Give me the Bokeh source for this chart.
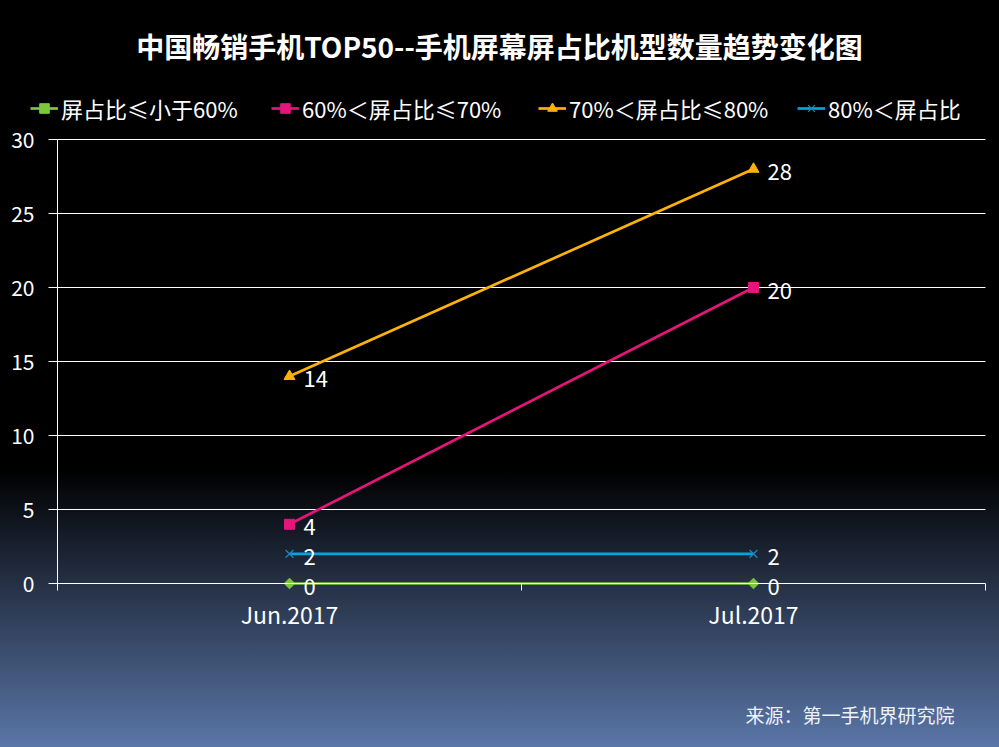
import numpy as np
from bokeh.plotting import figure
from bokeh.models import (Range1d, FixedTicker, Legend, LegendItem, Label,
                          GlobalInlineStyleSheet)
from bokeh.core.properties import value
from bokeh.embed import file_html
from bokeh.resources import INLINE

# ---------------- data ----------------
title_text = "中国畅销手机TOP50--手机屏幕屏占比机型数量趋势变化图"
source_text = "来源：第一手机界研究院"
months = ["Jun.2017", "Jul.2017"]
series_names = ["屏占比≤小于60%", "60%＜屏占比≤70%", "70%＜屏占比≤80%", "80%＜屏占比"]
s_le60 = [0, 0]
s_60_70 = [4, 20]
s_70_80 = [14, 28]
s_gt80 = [2, 2]
y_ticks = [0, 5, 10, 15, 20, 25, 30]

FONT = "Noto Sans CJK SC"

# ---------------- layout (pixels) ----------------
W, H = 999, 747
PL, PR, PT, PB = 57, 985, 139, 583   # plot area edges
YMAX = y_ticks[-1]

n = len(months)
xs = [i + 0.5 for i in range(n)]
boundaries = [float(i) for i in range(n + 1)]

ppx = (PR - PL) / n            # pixels per category
ppy = (PB - PT) / YMAX         # pixels per y unit
x_range = Range1d(-PL / ppx, n + (W - PR) / ppx)
y_range = Range1d(-(H - PB) / ppy, YMAX + PT / ppy)

css = ("html{height:100%;background-color:#5a76a8;"
       "background-image:linear-gradient(to bottom,#000000 0px,#000000 470px,#5a76a8 747px);"
       "background-repeat:no-repeat;}"
       "body{background:transparent;}")

p = figure(width=W, height=H, output_backend="svg", toolbar_location=None,
           x_range=x_range, y_range=y_range,
           min_border=0, min_border_left=0, min_border_right=0,
           min_border_top=0, min_border_bottom=0)
p.stylesheets = [GlobalInlineStyleSheet(css=css)]
p.styles = {"background": "linear-gradient(to bottom,#000000 0px,#000000 470px,#5a76a8 747px)"}
p.background_fill_color = None
p.border_fill_color = None
p.outline_line_color = None
p.xgrid.visible = False
p.ygrid.visible = False

# horizontal grid lines across the plot area
grid_y = y_ticks[1:]
p.segment(x0=[boundaries[0]] * len(grid_y), x1=[boundaries[-1]] * len(grid_y),
          y0=grid_y, y1=grid_y, line_color="white", line_width=1)

# y axis (fixed at left edge of plot area)
yax = p.yaxis[0]
yax.fixed_location = boundaries[0]
yax.bounds = (0, YMAX)
yax.ticker = FixedTicker(ticks=y_ticks)
yax.axis_line_color = "white"
yax.major_tick_line_color = "white"
yax.major_tick_out = 9
yax.major_tick_in = 0
yax.minor_tick_line_color = None
yax.major_label_text_color = "white"
yax.major_label_text_font = FONT
yax.major_label_text_font_size = "21px"
yax.major_label_standoff = 14

# x axis (fixed at y=0)
xax = p.xaxis[0]
xax.fixed_location = 0
xax.bounds = (boundaries[0], boundaries[-1])
xax.ticker = FixedTicker(ticks=xs, minor_ticks=boundaries)
xax.major_label_overrides = {x: m for x, m in zip(xs, months)}
xax.axis_line_color = "white"
xax.major_tick_line_color = None
xax.major_tick_out = 0
xax.major_tick_in = 0
xax.minor_tick_line_color = "white"
xax.minor_tick_out = 7
xax.minor_tick_in = 0
xax.major_label_text_color = "white"
xax.major_label_text_font = FONT
xax.major_label_text_font_size = "23px"
xax.major_label_standoff = 6

# ---------------- series ----------------
specs = [
    (s_le60, "#7cc83c", "square", 7.5, np.pi / 4, "#7cc83c", 1),
    (s_60_70, "#e5157a", "square", 10, 0, "#e5157a", 1),
    (s_70_80, "#fdb10b", "triangle", 11, 0, "#fdb10b", 1),
    (s_gt80, "#00a5dd", "x", 11, 0, "#1f84b4", 1.3),
]

items = []
for vals, col, mk, sz, ang, mcol, mlw in specs:
    lr = p.line(xs, vals, line_color=col, line_width=2.7)
    sr = p.scatter(xs, vals, marker=mk, size=sz, angle=ang, fill_color=mcol,
                   line_color=mcol, line_width=mlw)
    items.append([lr, sr])

for vals, *_ in specs:
    p.text(xs, vals, text=[str(v) for v in vals], x_offset=14, y_offset=3,
           text_align="left", text_baseline="middle", text_color="white",
           text_font=value(FONT), text_font_size="22px")

# ---------------- legends (one per series, along the top) ----------------
legend_x = [30, 271, 538, 797]
for name, rends, lx in zip(series_names, items, legend_x):
    lg = Legend(items=[LegendItem(label=name, renderers=rends)],
                location=(lx, H - 124), orientation="horizontal",
                background_fill_alpha=0, border_line_color=None,
                padding=0, margin=0, spacing=0,
                glyph_width=28, glyph_height=24, label_height=24,
                label_standoff=3, label_text_color="white",
                label_text_font=FONT, label_text_font_size="22px")
    p.add_layout(lg, "center")

p.add_layout(Label(x=499, y=H - 45, x_units="screen", y_units="screen", text=title_text,
                   text_align="center", text_baseline="middle", text_color="white",
                   text_font=FONT, text_font_style="bold", text_font_size="28px"))
p.add_layout(Label(x=745, y=H - 714, x_units="screen", y_units="screen", text=source_text,
                   text_align="left", text_baseline="middle", text_color="#eef2fa",
                   text_font=FONT, text_font_size="19px"))

open("out.html", "w").write(file_html(p, INLINE))
